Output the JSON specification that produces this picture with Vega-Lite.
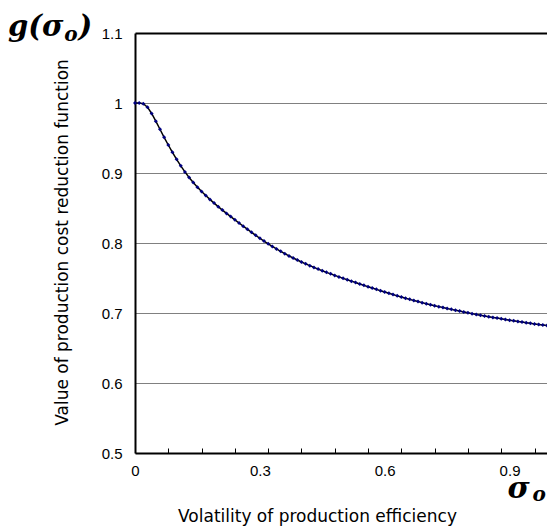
{
  "$schema": "https://vega.github.io/schema/vega-lite/v6.json",
  "width": 412,
  "height": 420,
  "autosize": {"type": "none"},
  "padding": {"left": 135, "top": 33, "right": 0, "bottom": 76},
  "background": "white",
  "config": {"view": {"stroke": null}, "font": "Liberation Sans"},
  "data": {"values": [
    {"sigma": 0.00, "g": 1.000}, {"sigma": 0.01, "g": 1.000}, {"sigma": 0.02, "g": 0.999}, {"sigma": 0.03, "g": 0.994},
    {"sigma": 0.04, "g": 0.985}, {"sigma": 0.05, "g": 0.974}, {"sigma": 0.06, "g": 0.9625}, {"sigma": 0.07, "g": 0.951},
    {"sigma": 0.08, "g": 0.940}, {"sigma": 0.09, "g": 0.9295}, {"sigma": 0.10, "g": 0.9195}, {"sigma": 0.11, "g": 0.9102},
    {"sigma": 0.12, "g": 0.9016}, {"sigma": 0.13, "g": 0.8936}, {"sigma": 0.14, "g": 0.8864}, {"sigma": 0.15, "g": 0.8798},
    {"sigma": 0.16, "g": 0.8736}, {"sigma": 0.17, "g": 0.8678}, {"sigma": 0.18, "g": 0.8623}, {"sigma": 0.19, "g": 0.8570},
    {"sigma": 0.20, "g": 0.8519}, {"sigma": 0.21, "g": 0.8470}, {"sigma": 0.22, "g": 0.8423}, {"sigma": 0.23, "g": 0.8377},
    {"sigma": 0.24, "g": 0.8331}, {"sigma": 0.25, "g": 0.8286}, {"sigma": 0.26, "g": 0.8241}, {"sigma": 0.27, "g": 0.8197},
    {"sigma": 0.28, "g": 0.8153}, {"sigma": 0.29, "g": 0.8110}, {"sigma": 0.30, "g": 0.8068}, {"sigma": 0.31, "g": 0.8027},
    {"sigma": 0.32, "g": 0.7988}, {"sigma": 0.33, "g": 0.7951}, {"sigma": 0.34, "g": 0.7915}, {"sigma": 0.35, "g": 0.7881},
    {"sigma": 0.36, "g": 0.7848}, {"sigma": 0.37, "g": 0.7816}, {"sigma": 0.38, "g": 0.7786}, {"sigma": 0.39, "g": 0.7757},
    {"sigma": 0.40, "g": 0.7729}, {"sigma": 0.41, "g": 0.7702}, {"sigma": 0.42, "g": 0.7676}, {"sigma": 0.43, "g": 0.7651},
    {"sigma": 0.44, "g": 0.7627}, {"sigma": 0.45, "g": 0.7604}, {"sigma": 0.46, "g": 0.7581}, {"sigma": 0.47, "g": 0.7559},
    {"sigma": 0.48, "g": 0.7537}, {"sigma": 0.49, "g": 0.7516}, {"sigma": 0.50, "g": 0.7495}, {"sigma": 0.51, "g": 0.7475},
    {"sigma": 0.52, "g": 0.7455}, {"sigma": 0.53, "g": 0.7435}, {"sigma": 0.54, "g": 0.7415}, {"sigma": 0.55, "g": 0.7395},
    {"sigma": 0.56, "g": 0.7376}, {"sigma": 0.57, "g": 0.7357}, {"sigma": 0.58, "g": 0.7338}, {"sigma": 0.59, "g": 0.7319},
    {"sigma": 0.60, "g": 0.7300}, {"sigma": 0.61, "g": 0.7281}, {"sigma": 0.62, "g": 0.7263}, {"sigma": 0.63, "g": 0.7245},
    {"sigma": 0.64, "g": 0.7228}, {"sigma": 0.65, "g": 0.7211}, {"sigma": 0.66, "g": 0.7195}, {"sigma": 0.67, "g": 0.7179},
    {"sigma": 0.68, "g": 0.7163}, {"sigma": 0.69, "g": 0.7148}, {"sigma": 0.70, "g": 0.7133}, {"sigma": 0.71, "g": 0.7119},
    {"sigma": 0.72, "g": 0.7105}, {"sigma": 0.73, "g": 0.7091}, {"sigma": 0.74, "g": 0.7078}, {"sigma": 0.75, "g": 0.7065},
    {"sigma": 0.76, "g": 0.7052}, {"sigma": 0.77, "g": 0.7039}, {"sigma": 0.78, "g": 0.7027}, {"sigma": 0.79, "g": 0.7015},
    {"sigma": 0.80, "g": 0.7003}, {"sigma": 0.81, "g": 0.6991}, {"sigma": 0.82, "g": 0.6980}, {"sigma": 0.83, "g": 0.6969},
    {"sigma": 0.84, "g": 0.6958}, {"sigma": 0.85, "g": 0.6947}, {"sigma": 0.86, "g": 0.6937}, {"sigma": 0.87, "g": 0.6927},
    {"sigma": 0.88, "g": 0.6917}, {"sigma": 0.89, "g": 0.6907}, {"sigma": 0.90, "g": 0.6897}, {"sigma": 0.91, "g": 0.6888},
    {"sigma": 0.92, "g": 0.6879}, {"sigma": 0.93, "g": 0.6870}, {"sigma": 0.94, "g": 0.6861}, {"sigma": 0.95, "g": 0.6852},
    {"sigma": 0.96, "g": 0.6844}, {"sigma": 0.97, "g": 0.6836}, {"sigma": 0.98, "g": 0.6828}, {"sigma": 0.99, "g": 0.6820}
  ]},
  "resolve": {"axis": {"x": "independent"}},
  "layer": [
    {
      "mark": {"type": "line", "color": "black", "strokeWidth": 1.5, "clip": false},
      "encoding": {
        "x": {
          "field": "sigma", "type": "quantitative",
          "scale": {"domain": [0, 0.99], "nice": false, "zero": false},
          "axis": {
            "orient": "bottom",
            "title": "Volatility of production efficiency",
            "values": [0, 0.3, 0.6, 0.9],
            "format": ".1~f",
            "ticks": false,
            "grid": false,
            "domainColor": "black",
            "domainWidth": 2,
            "labelColor": "black",
            "labelFont": "Liberation Sans",
            "labelFontSize": 15,
            "labelPadding": 10,
            "labelFlush": false,
            "labelOverlap": false,
            "titleFont": "DejaVu Sans",
            "titleFontSize": 17,
            "titleFontWeight": "normal",
            "titleColor": "black",
            "titleX": 182,
            "titleY": 63,
            "titleAlign": "center",
            "titleBaseline": "middle"
          }
        },
        "y": {
          "field": "g", "type": "quantitative",
          "scale": {"domain": [0.5, 1.1], "nice": false, "zero": false},
          "axis": {
            "title": "Value of production cost reduction function",
            "values": [0.5, 0.6, 0.7, 0.8, 0.9, 1, 1.1],
            "format": ".1~f",
            "ticks": false,
            "grid": true,
            "gridColor": {"condition": {"test": "datum.value > 1.05", "value": "black"}, "value": "#808080"},
            "gridWidth": {"condition": {"test": "datum.value > 1.05", "value": 2}, "value": 1},
            "domainColor": "black",
            "domainWidth": 2,
            "labelColor": "black",
            "labelFont": "Liberation Sans",
            "labelFontSize": 15,
            "labelPadding": 13,
            "labelFlush": false,
            "labelOverlap": false,
            "titleFont": "DejaVu Sans",
            "titleFontSize": 17,
            "titleFontWeight": "normal",
            "titleColor": "black",
            "titleX": -73,
            "titleY": 209,
            "titleAngle": -90,
            "titleAlign": "center",
            "titleBaseline": "middle"
          }
        }
      }
    },
    {
      "mark": {"type": "point", "filled": true, "shape": "diamond", "size": 16, "color": "#000080", "opacity": 1, "clip": false},
      "encoding": {
        "x": {
          "field": "sigma", "type": "quantitative",
          "axis": {
            "orient": "bottom",
            "title": null,
            "values": [0.08, 0.16, 0.24, 0.32, 0.4, 0.48, 0.56, 0.64, 0.72, 0.8, 0.88, 0.96],
            "labels": false,
            "domain": false,
            "grid": false,
            "ticks": true,
            "tickSize": 5,
            "tickColor": "black",
            "tickWidth": 1,
            "offset": -5
          }
        },
        "y": {"field": "g", "type": "quantitative"}
      }
    },
    {
      "data": {"values": [{}]},
      "mark": {"type": "text", "text": "g(σ", "font": "DejaVu Serif", "fontStyle": "italic", "fontWeight": "bold", "fontSize": 29, "align": "left", "baseline": "alphabetic", "color": "black"},
      "encoding": {"x": {"datum": -0.305, "axis": null}, "y": {"datum": 1.096}}
    },
    {
      "data": {"values": [{}]},
      "mark": {"type": "text", "text": "o", "font": "DejaVu Serif", "fontStyle": "italic", "fontWeight": "bold", "fontSize": 20, "align": "left", "baseline": "alphabetic", "color": "black"},
      "encoding": {"x": {"datum": -0.17, "axis": null}, "y": {"datum": 1.0886}}
    },
    {
      "data": {"values": [{}]},
      "mark": {"type": "text", "text": ")", "font": "DejaVu Serif", "fontStyle": "italic", "fontWeight": "bold", "fontSize": 29, "align": "left", "baseline": "alphabetic", "color": "black"},
      "encoding": {"x": {"datum": -0.136, "axis": null}, "y": {"datum": 1.096}}
    },
    {
      "data": {"values": [{}]},
      "mark": {"type": "text", "text": "σ", "font": "DejaVu Serif", "fontStyle": "italic", "fontWeight": "bold", "fontSize": 30, "align": "left", "baseline": "alphabetic", "color": "black"},
      "encoding": {"x": {"datum": 0.895, "axis": null}, "y": {"datum": 0.4357}}
    },
    {
      "data": {"values": [{}]},
      "mark": {"type": "text", "text": "o", "font": "DejaVu Serif", "fontStyle": "italic", "fontWeight": "bold", "fontSize": 20, "align": "left", "baseline": "alphabetic", "color": "black"},
      "encoding": {"x": {"datum": 0.955, "axis": null}, "y": {"datum": 0.4315}}
    }
  ]
}
